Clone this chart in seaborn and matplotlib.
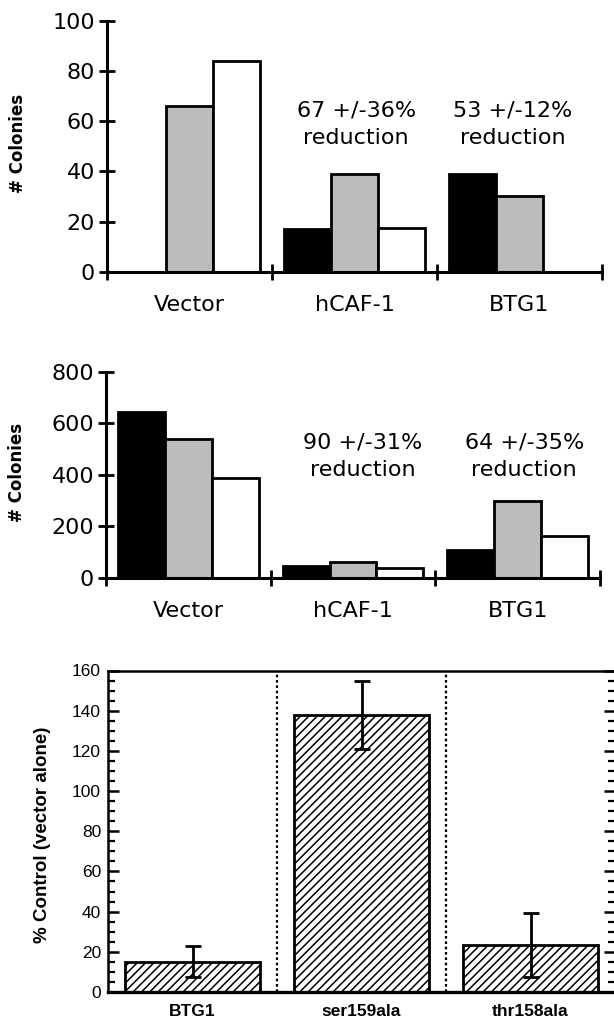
# Ensaios de colonias: vetor vs hCAF-1 vs BTG1, e mutantes de BTG1
import numpy as np
import pandas as pd
import matplotlib
matplotlib.use("Agg")
import matplotlib.pyplot as plt
from matplotlib.ticker import MultipleLocator, FixedLocator, NullFormatter
import seaborn as sns

sns.set_style("ticks")
plt.rcParams["font.family"] = ["DejaVu Sans"]
plt.rcParams["hatch.linewidth"] = 1.1
for k in ["text.color", "axes.labelcolor", "xtick.color", "ytick.color",
          "axes.edgecolor"]:
    plt.rcParams[k] = "black"

# --- dados ---
grupos = ["Vector", "hCAF-1", "BTG1"]
series = ["Exp. 1", "Exp. 2", "Exp. 3"]

# painel 1 (colonias)
p1_exp1 = [0, 17, 39]
p1_exp2 = [66, 39, 30]
p1_exp3 = [84, 17.5, 0]
p1_notas = ["67 +/-36%\nreduction", "53 +/-12%\nreduction"]

# painel 2 (colonias)
p2_exp1 = [643, 45, 108]
p2_exp2 = [540, 62, 298]
p2_exp3 = [389, 37, 163]
p2_notas = ["90 +/-31%\nreduction", "64 +/-35%\nreduction"]

# painel 3 (% controle)
mutantes = ["BTG1", "ser159ala", "thr158ala"]
pct_controle = [15, 138, 23.5]
pct_erro = [7.7, 17, 16]

cores = ["black", "#bbbcc0", "white"]
FS = 16


def tabela(v1, v2, v3):
    return pd.DataFrame({
        "grupo": grupos * 3,
        "serie": [series[0]] * 3 + [series[1]] * 3 + [series[2]] * 3,
        "valor": list(v1) + list(v2) + list(v3),
    })


def painel_colonias(ax, df, ymax, passo, notas, notas_x, notas_y):
    sns.barplot(data=df, x="grupo", y="valor", hue="serie", order=grupos,
                hue_order=series, palette=cores, width=0.855,
                edgecolor="black", linewidth=2.0, legend=False, ax=ax)
    ax.set_xlim(-0.5, 2.5)
    ax.set_ylim(0, ymax)
    sns.despine(ax=ax)
    for s in ["left", "bottom"]:
        ax.spines[s].set_linewidth(2.2)
    ax.yaxis.set_major_locator(MultipleLocator(passo))
    ax.tick_params(axis="y", direction="inout", length=11, width=2,
                   labelsize=FS, pad=3)
    # marcas entre grupos, rotulos no centro
    ax.xaxis.set_major_locator(FixedLocator([-0.5, 0.5, 1.5, 2.5]))
    ax.xaxis.set_major_formatter(NullFormatter())
    ax.xaxis.set_minor_locator(FixedLocator([0, 1, 2]))
    ax.set_xticklabels(grupos, minor=True)
    ax.tick_params(axis="x", which="major", direction="inout", length=11,
                   width=2)
    ax.tick_params(axis="x", which="minor", length=0, labelsize=FS, pad=17)
    ax.set_xlabel("")
    ax.set_ylabel("# Colonies", fontsize=12, fontweight="bold")
    ax.yaxis.set_label_coords(-0.162, 0.51)
    for txt, x in zip(notas, notas_x):
        ax.text(x, notas_y, txt, ha="center", va="center", fontsize=FS,
                linespacing=1.45, multialignment="center")


fig = plt.figure(figsize=(6.14, 10.26), dpi=100)
W, H = 614, 1026
ax1 = fig.add_axes([107 / W, 1 - 271.7 / H, 495 / W, 251 / H])
ax2 = fig.add_axes([106 / W, 1 - 577.7 / H, 494 / W, 205.7 / H])
ax3 = fig.add_axes([108 / W, 1 - 992 / H, 507 / W, 321.5 / H])

painel_colonias(ax1, tabela(p1_exp1, p1_exp2, p1_exp3), 100, 20,
                p1_notas, [1.01, 1.96], 58.8)
painel_colonias(ax2, tabela(p2_exp1, p2_exp2, p2_exp3), 800, 200,
                p2_notas, [1.06, 2.04], 473)

# --- painel 3 ---
df3 = pd.DataFrame({"mutante": mutantes, "pct": pct_controle})
sns.barplot(data=df3, x="mutante", y="pct", order=mutantes, color="white",
            width=0.80, edgecolor="black", linewidth=2.0, hatch="////",
            errorbar=None, ax=ax3)
pos = ax3.get_xticks()
ax3.errorbar(pos, pct_controle, yerr=pct_erro, fmt="none", ecolor="black",
             elinewidth=2, capsize=5.5, capthick=2, zorder=5)
for x in [0.5, 1.5]:
    ax3.axvline(x, color="black", lw=1.6, ls=(0, (1.2, 1.2)), zorder=0)
ax3.set_xlim(-0.5, 2.5)
ax3.set_ylim(0, 160)
for s in ax3.spines.values():
    s.set_linewidth(1.8)
ax3.spines["bottom"].set_linewidth(2.4)
ax3.yaxis.set_major_locator(MultipleLocator(20))
ax3.yaxis.set_minor_locator(MultipleLocator(5))
ax3.tick_params(axis="y", which="major", direction="in", length=8, width=1.8,
                left=True, right=True, labelsize=12.5, pad=5)
ax3.tick_params(axis="y", which="minor", direction="in", length=5, width=1.6,
                left=True, right=True)
ax3.tick_params(axis="x", length=0, pad=9)
for lab in ax3.get_yticklabels():
    lab.set_family(["Liberation Sans", "DejaVu Sans"])
for lab in ax3.get_xticklabels():
    lab.set_family(["Liberation Sans", "DejaVu Sans"])
    lab.set_fontweight("bold")
    lab.set_fontsize(12.5)
ax3.set_xlabel("")
ax3.set_ylabel("% Control (vector alone)", fontsize=13.5, fontweight="bold",
               family=["Liberation Sans", "DejaVu Sans"])
ax3.yaxis.set_label_coords(-0.112, 0.49)

fig.savefig("out.png", dpi=100)
